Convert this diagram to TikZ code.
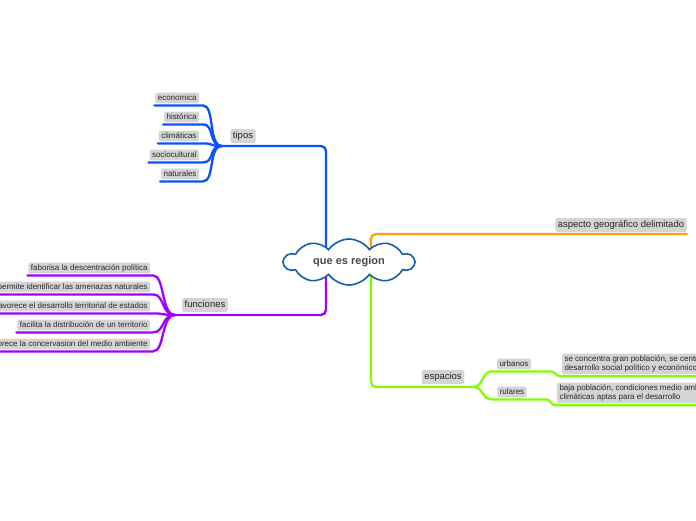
\documentclass[tikz,border=0pt]{standalone}
\usepackage{fontspec}
\setmainfont{Liberation Sans}
\usepackage{xcolor}
\usetikzlibrary{shapes.symbols, backgrounds, calc}
\definecolor{tiposblue}{RGB}{8,82,255}
\definecolor{funcpurple}{RGB}{160,0,255}
\definecolor{asporange}{RGB}{255,160,0}
\definecolor{espgreen}{RGB}{128,255,0}
\definecolor{cloudblue}{RGB}{24,92,168}
\definecolor{lblgray}{RGB}{212,212,212}
\definecolor{txtgray}{RGB}{40,40,40}
\tikzset{
  lbl/.style     = {rectangle, fill=lblgray, rounded corners=2pt, outer sep=0pt,
                    inner xsep=2.5pt, inner ysep=1.5pt, text=txtgray,
                    text height=6pt, text depth=1.8pt,
                    font=\fontsize{8}{9}\selectfont},
  mainlbl/.style = {lbl, inner ysep=2.5pt, text height=7pt, text depth=2pt,
                    font=\fontsize{9.5}{11}\selectfont},
  desclbl/.style = {rectangle, fill=lblgray, rounded corners=2pt, outer sep=0pt,
                    inner xsep=2.5pt, inner ysep=2pt, text=txtgray, align=left,
                    font=\fontsize{8}{9}\selectfont},
  cloudnode/.style = {cloud, cloud puffs=10, cloud puff arc=110,
                    cloud ignores aspect, draw=cloudblue, line width=1.6pt,
                    fill=white, minimum width=130pt, minimum height=46pt,
                    text=txtgray!85, font=\fontsize{11}{13}\selectfont\bfseries},
  arm/.style     = {line width=2.3pt, rounded corners=5pt, line cap=round},
  twig/.style    = {line width=2.3pt, line cap=round},
}

\begin{document}
\begin{tikzpicture}[x=1pt, y=-1pt]
  \useasboundingbox (0,0) rectangle (696,520);

  % centre
  \node[cloudnode] (cloud) at (349,262) {que es region};

  % junctions
  \coordinate (tj) at (222,146);
  \coordinate (fj) at (175,315);
  \coordinate (ej) at (473,387);

  % branch labels
  \node[mainlbl] (tipos) at (243,136) {tipos};
  \node[mainlbl] (func)  at (205,305) {funciones};
  \node[mainlbl] (esp)   at (443,377) {espacios};
  \node[mainlbl] (asp)   at (621,225) {aspecto geográfico delimitado};

  \begin{scope}[on background layer]
    \draw[arm, tiposblue]  ([xshift=-23pt]cloud.center) |- (tj);
    \draw[arm, funcpurple] ([xshift=-23pt]cloud.center) |- (fj);
    \draw[arm, asporange]  ([xshift=22pt]cloud.center) |- ([yshift=-2pt]asp.south east);
    \draw[arm, espgreen]   ([xshift=22pt]cloud.center) |- (ej);
  \end{scope}

  % tipos
  \foreach \i/\yy/\txt in {1/98/economica, 2/117/histórica, 3/136/climáticas,
                           4/155/sociocultural, 5/174/naturales} {
    \node[lbl, anchor=east] (tipo\i) at (199,\yy) {\txt};
    \draw[twig, tiposblue] (tj) .. controls +(-14,0) and +(12,0)
      .. ([shift={(4pt,-2pt)}]tipo\i.south east) -- ([shift={(-1pt,-2pt)}]tipo\i.south west);
  }

  % funciones
  \foreach \i/\yy/\txt in {1/268/faborisa la descentración política,
                           2/287/permite identificar las amenazas naturales,
                           3/306/favorece el desarrollo territorial de estados,
                           4/325/facilita la distribución de un territorio,
                           5/344/favorece la concervasion del medio ambiente} {
    \node[lbl, anchor=east] (fun\i) at (150,\yy) {\txt};
    \draw[twig, funcpurple] (fj) .. controls +(-14,0) and +(12,0)
      .. ([shift={(3pt,-2pt)}]fun\i.south east) -- ([shift={(-1pt,-2pt)}]fun\i.south west);
  }

  % espacios
  \node[lbl] (urb) at (514,364) {urbanos};
  \node[lbl] (rur) at (512,392) {rulares};
  \node[desclbl, anchor=west] (udesc) at (562,364)
    {se concentra gran población, se centra el\\desarrollo social político y económico};
  \node[desclbl, anchor=west] (rdesc) at (557,393)
    {baja población, condiciones medio ambientales y\\climáticas aptas para el desarrollo};

  \draw[twig, espgreen] (ej) .. controls +(11,0) and +(-11,0)
    .. ([shift={(-5pt,-2pt)}]urb.south west) -- ([shift={(18pt,-2pt)}]urb.south east)
    .. controls +(8,0) and +(-8,0) .. ([yshift=-2pt]udesc.south west) -- ++(150,0);
  \draw[twig, espgreen] (ej) .. controls +(11,0) and +(-11,0)
    .. ([shift={(-5pt,-2pt)}]rur.south west) -- ([shift={(18pt,-2pt)}]rur.south east)
    .. controls +(8,0) and +(-8,0) .. ([yshift=-2pt]rdesc.south west) -- ++(150,0);
\end{tikzpicture}
\end{document}
